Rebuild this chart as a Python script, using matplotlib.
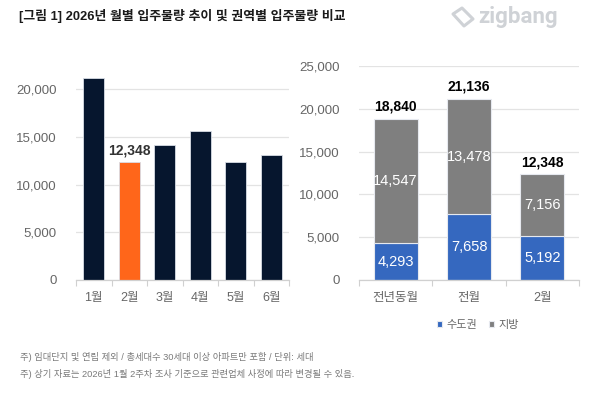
import matplotlib
matplotlib.use("Agg")
import matplotlib.pyplot as plt
from matplotlib.patches import Polygon
from matplotlib.ticker import FuncFormatter, FixedLocator

plt.rcParams['font.family'] = ['Liberation Sans', 'Noto Sans CJK KR', 'DejaVu Sans']

# ---- data ----
months = ['1월', '2월', '3월', '4월', '5월', '6월']
monthly_supply = [21136, 12348, 14100, 15650, 12400, 13050]
highlight_label = '12,348'

groups = ['전년동월', '전월', '2월']
capital = [4293, 7658, 5192]
province = [14547, 13478, 7156]
totals = [18840, 21136, 12348]
series_names = ['수도권', '지방']

title = '[그림 1] 2026년 월별 입주물량 추이 및 권역별 입주물량 비교'
notes = ['주) 임대단지 및 연립 제외 / 총세대수 30세대 이상 아파트만 포함 / 단위: 세대',
         '주) 상기 자료는 2026년 1월 2주차 조사 기준으로 관련업체 사정에 따라 변경될 수 있음.']

NAVY = '#06162e'
ORANGE = '#ff661a'
BLUE = '#3568bf'
GRAY = '#7f7f7f'
TICK = '#666666'
GRID = '#e3e3e3'

W, H = 600, 394
fig = plt.figure(figsize=(6.0, 3.94), dpi=100)
fig.patch.set_facecolor('white')

def px_axes(l, r, top, bottom):
    return fig.add_axes([l / W, 1 - bottom / H, (r - l) / W, (bottom - top) / H])

fmt = FuncFormatter(lambda v, p: f'{int(v):,}')

def style(ax, n, ymax, yticks):
    ax.set_xlim(-0.5, n - 0.5)
    ax.set_ylim(0, ymax)
    ax.set_yticks(yticks)
    ax.yaxis.set_major_formatter(fmt)
    ax.grid(axis='y', color=GRID, linewidth=0.9)
    ax.set_axisbelow(True)
    for s in ['left', 'right', 'top']:
        ax.spines[s].set_visible(False)
    ax.spines['bottom'].set_color('#d0d0d0')
    ax.spines['bottom'].set_linewidth(0.9)
    ax.tick_params(axis='y', length=0, labelsize=9.5, labelcolor=TICK, pad=14)
    ax.tick_params(axis='x', which='major', length=0, labelsize=9, labelcolor=TICK, pad=9)
    ax.xaxis.set_minor_locator(FixedLocator([i - 0.5 for i in range(n + 1)]))
    ax.tick_params(axis='x', which='minor', length=4, color='#d0d0d0', width=0.8, direction='out')

# ---- left chart ----
ax1 = px_axes(76, 289, 70, 280)
colors1 = [ORANGE if m == '2월' else NAVY for m in months]
ax1.bar(range(len(months)), monthly_supply, width=0.6, color=colors1,
        edgecolor='#d8dde6', linewidth=0.6)
ax1.set_xticks(range(len(months)))
ax1.set_xticklabels(months)
style(ax1, len(months), 22000, [0, 5000, 10000, 15000, 20000])
i2 = months.index('2월')
ax1.text(i2, monthly_supply[i2] + 500, highlight_label, ha='center', va='bottom',
         fontsize=10, fontweight='bold', color='#333333')

# ---- right chart ----
ax2 = px_axes(359, 579, 66, 280)
x = range(len(groups))
b1 = ax2.bar(x, capital, width=0.6, color=BLUE, edgecolor='#e6e9ef', linewidth=0.8,
             label=series_names[0])
b2 = ax2.bar(x, province, width=0.6, bottom=capital, color=GRAY, edgecolor='#e6e9ef',
             linewidth=0.8, label=series_names[1])
ax2.set_xticks(list(x))
ax2.set_xticklabels(groups)
style(ax2, len(groups), 25000, [0, 5000, 10000, 15000, 20000, 25000])
for i in x:
    ax2.text(i, capital[i] / 2, f'{capital[i]:,}', ha='center', va='center',
             fontsize=10.5, color='white')
    ax2.text(i, capital[i] + province[i] / 2, f'{province[i]:,}', ha='center', va='center',
             fontsize=10.5, color='white')
    ax2.text(i, totals[i] + 600, f'{totals[i]:,}', ha='center', va='bottom',
             fontsize=10, fontweight='bold', color='black')

leg = fig.legend(handles=[b1, b2], labels=series_names, loc='center',
                 bbox_to_anchor=(478 / W, 1 - 325 / H), ncol=2, frameon=False,
                 fontsize=8, handlelength=0.5, handleheight=0.5, handletextpad=0.4,
                 columnspacing=1.0)
for t in leg.get_texts():
    t.set_color(TICK)

# ---- title & logo ----
fig.text(19 / W, 1 - 16 / H, title, ha='left', va='center', fontsize=9.3,
         fontweight='bold', color='#1a1a1a')
fig.text(478 / W, 1 - 17 / H, 'zigbang', ha='left', va='center', fontsize=16,
         fontweight='bold', color='#cfd2d6', family=['Roboto', 'DejaVu Sans'])
icon = Polygon([(453 / W, 1 - 14 / H), (462 / W, 1 - 8 / H), (473 / W, 1 - 19 / H),
                (464 / W, 1 - 26 / H)], closed=True, fill=False, edgecolor='#cfd2d6',
               linewidth=2.2, joinstyle='round', transform=fig.transFigure)
fig.patches.append(icon)

# ---- notes ----
fig.text(20 / W, 1 - 357 / H, notes[0], ha='left', va='center', fontsize=6.7, color='#7a7a7a')
fig.text(20 / W, 1 - 374 / H, notes[1], ha='left', va='center', fontsize=6.7, color='#7a7a7a')

fig.savefig('out.png', dpi=100, facecolor='white')
